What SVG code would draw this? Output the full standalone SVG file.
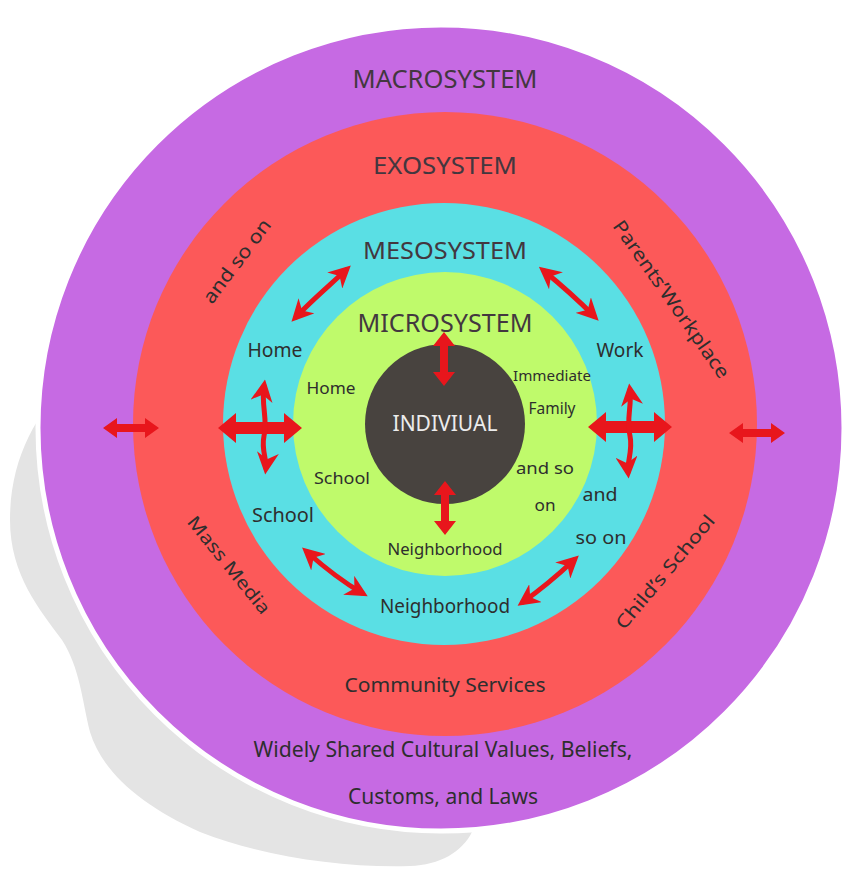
<svg xmlns="http://www.w3.org/2000/svg" width="843" height="886" viewBox="0 0 843 886">
  <style>
    text { font-family: "Noto Sans", "Open Sans", "DejaVu Sans", sans-serif; fill: #2e2e2e; text-anchor: middle; }
    .head { fill: #43373f; }
    .arrow { fill: #e8161c; }
    .sketch { fill: none; stroke: #e8161c; stroke-width: 5; stroke-linecap: round; }
  </style>
  <defs>
    <marker id="tip" viewBox="0 0 10 10" refX="7" refY="5" markerWidth="4.4" markerHeight="4.4" orient="auto-start-reverse" markerUnits="strokeWidth">
      <path d="M0,0 L10,5 L0,10 L3,5 Z" fill="#e8161c"/>
    </marker>
    <!-- straight double arrows, centred at origin, pointing along x -->
    <polygon id="dbl-big" points="-42,0 -24,-15 -24,-6 24,-6 24,-15 42,0 24,15 24,6 -24,6 -24,15"/>
    <polygon id="dbl-small" points="-28,0 -14,-10 -14,-4 14,-4 14,-10 28,0 14,10 14,4 -14,4 -14,10"/>
    <polygon id="dbl-core" points="-27,0 -13,-11 -13,-4 13,-4 13,-11 27,0 13,11 13,4 -13,4 -13,11"/>
  </defs>

  <rect width="843" height="886" fill="#ffffff"/>

  <!-- soft backdrop shadow behind the outer ring -->
  <path id="shadow" d="M70,380 C35,415 10,460 10,520 C10,575 40,610 62,640 C80,668 82,700 90,732 C102,772 142,806 200,832 C262,856 340,868 410,866 C440,865 462,852 472,832 L470,700 Z" fill="#e4e4e4"/>

  <g id="macrosystem">
    <circle cx="441" cy="428" r="403" fill="#c66ae3" stroke="#ffffff" stroke-width="5"/>
    <text class="head" x="445" y="88" font-size="26" textLength="185" lengthAdjust="spacingAndGlyphs">MACROSYSTEM</text>
    <text x="443" y="757" font-size="21" textLength="379" lengthAdjust="spacingAndGlyphs">Widely Shared Cultural Values, Beliefs,</text>
    <text x="443" y="804" font-size="21" textLength="190" lengthAdjust="spacingAndGlyphs">Customs, and Laws</text>
  </g>

  <g id="exosystem">
    <circle cx="445" cy="424" r="312" fill="#fc5959"/>
    <text class="head" x="445" y="174" font-size="24" textLength="144" lengthAdjust="spacingAndGlyphs">EXOSYSTEM</text>
    <text x="445" y="692" font-size="20" textLength="201" lengthAdjust="spacingAndGlyphs">Community Services</text>
    <text x="0" y="0" font-size="19" textLength="100" lengthAdjust="spacingAndGlyphs" transform="translate(242,265) rotate(-53)">and so on</text>
    <text x="0" y="0" font-size="19" textLength="188" lengthAdjust="spacingAndGlyphs" transform="translate(666,303) rotate(55)">Parents’Workplace</text>
    <text x="0" y="0" font-size="18" textLength="120" lengthAdjust="spacingAndGlyphs" transform="translate(224,569) rotate(51)">Mass Media</text>
    <text x="0" y="0" font-size="18" textLength="143" lengthAdjust="spacingAndGlyphs" transform="translate(670,576) rotate(-50)">Child’s School</text>
  </g>

  <g id="mesosystem">
    <circle cx="444" cy="424" r="221" fill="#5adfe4"/>
    <text class="head" x="445" y="259" font-size="24" textLength="164" lengthAdjust="spacingAndGlyphs">MESOSYSTEM</text>
    <text x="275" y="357" font-size="19" textLength="55" lengthAdjust="spacingAndGlyphs">Home</text>
    <text x="620" y="357" font-size="19" textLength="47" lengthAdjust="spacingAndGlyphs">Work</text>
    <text x="283" y="522" font-size="19" textLength="62" lengthAdjust="spacingAndGlyphs">School</text>
    <text x="600" y="501" font-size="18" textLength="35" lengthAdjust="spacingAndGlyphs">and</text>
    <text x="601" y="544" font-size="18" textLength="51" lengthAdjust="spacingAndGlyphs">so on</text>
    <text x="445" y="613" font-size="19" textLength="130" lengthAdjust="spacingAndGlyphs">Neighborhood</text>
  </g>

  <g id="microsystem">
    <circle cx="445" cy="424" r="152" fill="#bffa6b"/>
    <text class="head" x="445" y="332" font-size="25" textLength="175" lengthAdjust="spacingAndGlyphs">MICROSYSTEM</text>
    <text x="331" y="394" font-size="17" textLength="49" lengthAdjust="spacingAndGlyphs">Home</text>
    <text x="552" y="381" font-size="15" textLength="78" lengthAdjust="spacingAndGlyphs">Immediate</text>
    <text x="552" y="414" font-size="16" textLength="47" lengthAdjust="spacingAndGlyphs">Family</text>
    <text x="342" y="484" font-size="17" textLength="56" lengthAdjust="spacingAndGlyphs">School</text>
    <text x="545" y="474" font-size="17" textLength="58" lengthAdjust="spacingAndGlyphs">and so</text>
    <text x="545" y="511" font-size="17" textLength="21" lengthAdjust="spacingAndGlyphs">on</text>
    <text x="445" y="555" font-size="16" textLength="115" lengthAdjust="spacingAndGlyphs">Neighborhood</text>
  </g>

  <g id="individual">
    <circle cx="445" cy="424" r="80" fill="#48433f"/>
    <text x="445" y="431" font-size="21" textLength="105" lengthAdjust="spacingAndGlyphs" style="fill:#ececec">INDIVIUAL</text>
  </g>

  <g id="connectors">
    <!-- centre links -->
    <use href="#dbl-core" class="arrow" transform="translate(444,359) rotate(90)"/>
    <use href="#dbl-core" class="arrow" transform="translate(445,508) rotate(90)"/>
    <!-- side crosses -->
    <use href="#dbl-big" class="arrow" transform="translate(260,428)"/>
    <use href="#dbl-big" class="arrow" transform="translate(630,427)"/>
    <path class="sketch" d="M264,386 C261,405 268,420 264,436 C261,450 267,460 266,468" marker-start="url(#tip)" marker-end="url(#tip)"/>
    <path class="sketch" d="M630,390 C632,405 626,420 630,436 C633,450 627,462 628,472" marker-start="url(#tip)" marker-end="url(#tip)"/>
    <!-- outer links -->
    <use href="#dbl-small" class="arrow" transform="translate(131,428)"/>
    <use href="#dbl-small" class="arrow" transform="translate(757,433)"/>
    <!-- ring links -->
    <path class="sketch" d="M296,317 C312,300 330,285 346,270" marker-start="url(#tip)" marker-end="url(#tip)"/>
    <path class="sketch" d="M544,271 C560,284 578,300 594,316" marker-start="url(#tip)" marker-end="url(#tip)"/>
    <path class="sketch" d="M307,552 C325,568 343,582 362,593" marker-start="url(#tip)" marker-end="url(#tip)"/>
    <path class="sketch" d="M523,602 C540,590 558,575 574,560" marker-start="url(#tip)" marker-end="url(#tip)"/>
  </g>
</svg>
